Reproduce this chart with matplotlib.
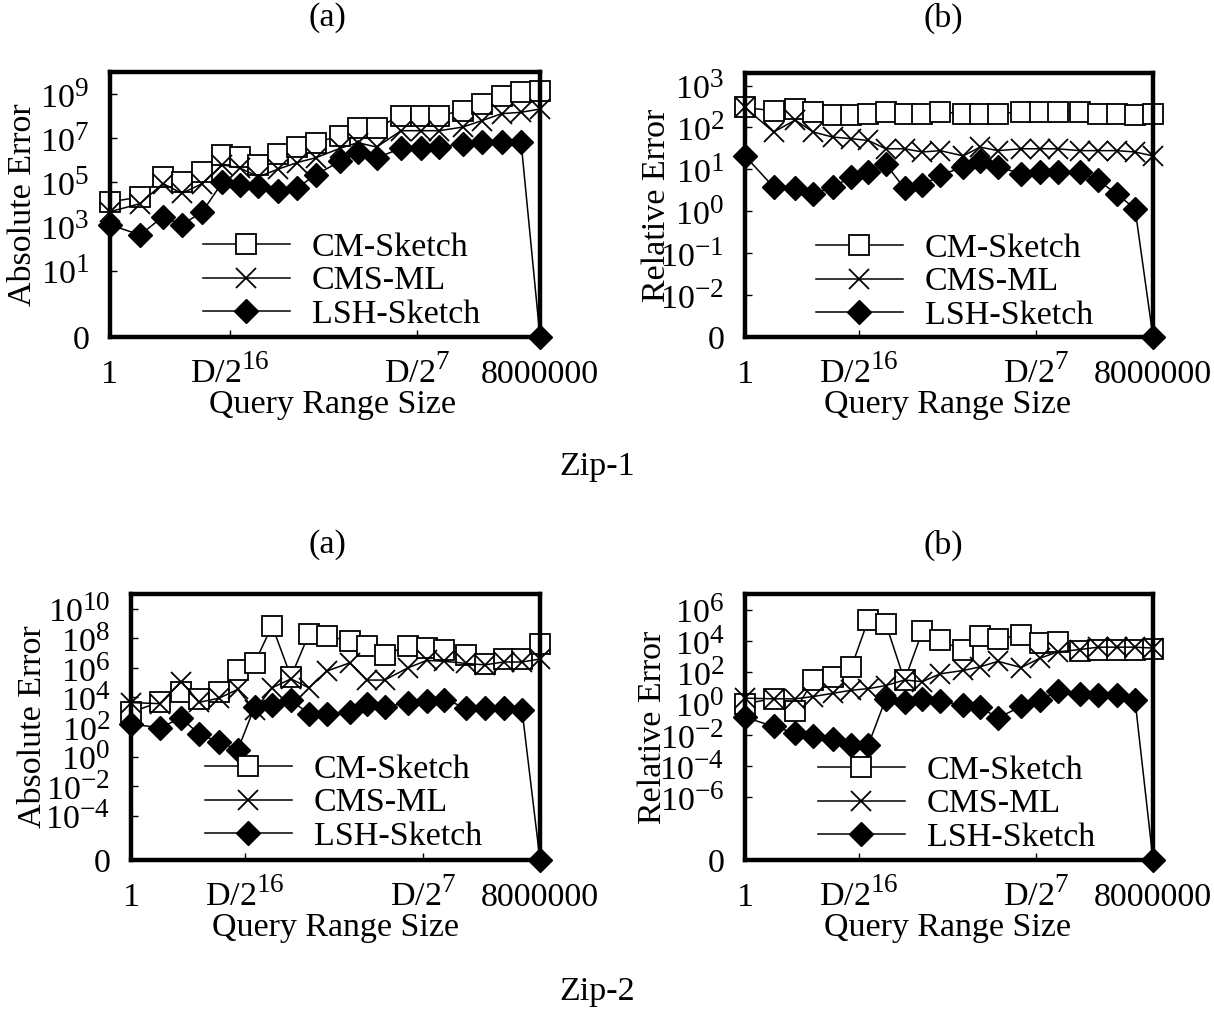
import numpy as np
import matplotlib
matplotlib.use("Agg")
import matplotlib.pyplot as plt
import matplotlib._mathtext as mathtext_internals
from matplotlib.ticker import FixedLocator, NullLocator

plt.rcParams['font.family'] = ['Liberation Serif', 'DejaVu Serif']
plt.rcParams['mathtext.fontset'] = 'custom'
plt.rcParams['mathtext.rm'] = 'Liberation Serif'
# gnuplot-style exponents are bigger than the mathtext default
mathtext_internals.SHRINK_FACTOR = 0.8

# where each query range sits along the x axis (0 = size 1, 1 = 8000000)
x_pos = [0.0, 0.070, 0.123, 0.167, 0.215, 0.261, 0.302, 0.345, 0.391, 0.435, 0.478,
         0.535, 0.576, 0.620, 0.677, 0.723, 0.766, 0.820, 0.865, 0.911, 0.956, 1.0]
x_tick_pos = [0.0, 0.279, 0.714, 1.0]
x_tick_labels = ['1', r'D/2$^{\mathregular{16}}$', r'D/2$^{\mathregular{7}}$', '8000000']
series_names = ['CM-Sketch', 'CMS-ML', 'LSH-Sketch']

# Zip-1, absolute error
zip1_abs_cm = [1.3e4, 2.2e4, 1.8e5, 1.0e5, 3.0e5, 1.7e6, 1.4e6, 5.9e5, 2.0e6, 4.0e6, 6.3e6,
               1.3e7, 3.0e7, 3.0e7, 1.05e8, 1.05e8, 1.05e8, 1.8e8, 3.5e8, 8.3e8, 1.2e9, 1.4e9]
zip1_abs_cms = [4.7e3, 1.1e4, 8.9e4, 3.2e4, 8.9e4, 6.3e5, 4.5e5, 1.8e5, 4.0e5, 7.9e5, 1.3e6,
                3.5e6, 6.3e6, 4.0e6, 2.2e7, 2.2e7, 2.2e7, 3.2e7, 6.3e7, 1.3e8, 1.5e8, 2.1e8]
zip1_abs_lsh = [1.2e3, 4.2e2, 2.8e3, 1.2e3, 4.7e3, 1.0e5, 7.9e4, 7.1e4, 4.0e4, 5.6e4, 2.2e5,
                8.9e5, 2.5e6, 1.3e6, 3.5e6, 3.5e6, 4.0e6, 5.6e6, 6.6e6, 6.6e6, 6.6e6, 0]

# Zip-1, relative error
zip1_rel_cm = [300, 250, 275, 235, 195, 195, 215, 235, 215, 215, 235,
               215, 215, 215, 235, 235, 235, 235, 215, 215, 195, 215]
zip1_rel_cms = [300, 78, 150, 78, 59, 54, 49, 31, 31, 26, 28,
                21, 34, 28, 31, 31, 31, 28, 28, 28, 26, 21]
zip1_rel_lsh = [21, 3.8, 3.5, 2.6, 3.8, 6.6, 8.7, 13.5, 3.5, 4.2, 7.2,
                11.5, 16, 11.5, 7.9, 8.7, 8.7, 8.7, 5.5, 2.6, 1.15, 0]

# Zip-2, absolute error
zip2_abs_cm = [1.0e3, 4.8e3, 2.3e4, 8.1e3, 2.3e4, 7.2e5, 2.1e6, 7.1e8, 2.5e5, 1.9e8, 1.45e8,
               6.6e7, 3.0e7, 7.9e6, 3.0e7, 2.3e7, 1.7e7, 7.9e6, 1.9e6, 4.2e6, 4.2e6, 4.4e7]
zip2_abs_cms = [4.5e3, 3.8e3, 1.15e5, 4.7e3, 8.9e3, 3.5e4, 1.4e3, 4.5e4, 1.8e5, 4.5e4, 6.0e5,
                2.2e6, 1.5e5, 1.5e5, 1.0e6, 3.2e6, 2.8e6, 2.0e6, 1.6e6, 2.5e6, 2.5e6, 4.0e6]
zip2_abs_lsh = [160, 89, 400, 32, 10, 2.8, 2.2e3, 3.2e3, 6.3e3, 790, 790,
                1.1e3, 3.5e3, 2.2e3, 4.5e3, 5.6e3, 7.1e3, 2.0e3, 1.8e3, 1.8e3, 1.4e3, 0]

# Zip-2, relative error
zip2_rel_cm = [1.0, 2.0, 0.35, 30, 47, 220, 2.2e5, 1.3e5, 30, 4.3e4, 1.1e4,
               2.5e3, 2.1e4, 1.4e4, 2.3e4, 6.9e3, 8.9e3, 2.2e3, 2.5e3, 2.5e3, 2.5e3, 3.2e3]
zip2_rel_cms = [2.2, 2.0, 2.0, 2.8, 4.5, 7.1, 8.9, 14, 32, 25, 79,
                130, 220, 500, 200, 790, 2.0e3, 2.8e3, 4.0e3, 4.0e3, 4.0e3, 3.5e3]
zip2_rel_lsh = [0.13, 0.035, 0.0126, 0.0079, 0.0056, 0.0022, 0.0022, 2.0, 1.26, 2.0, 1.4,
                0.76, 0.59, 0.12, 0.66, 1.6, 6.0, 4.2, 3.4, 3.4, 1.6, 0]

W, H = 1214, 1010
fig = plt.figure(figsize=(W / 100, H / 100), dpi=100)
FS = 24.5


def add_panel(box, data, ylabel, floor_exp, top_exp, tick_exps, ylab_x, leg_xy, xlab_x, xlab_y):
    l, t, r, b = box
    ax = fig.add_axes([l / W, 1 - b / H, (r - l) / W, (b - t) / H])
    lo = 10.0 ** floor_exp
    ax.set_yscale('function', functions=(lambda v: np.log10(np.maximum(v, lo)),
                                         lambda e: 10.0 ** e))
    cm, cms, lsh = data
    ax.plot(x_pos, cm, '-', color='black', lw=1.1, marker='s', ms=14.5,
            mfc='white', mec='black', mew=1.3, clip_on=False, label=series_names[0])
    ax.plot(x_pos, cms, '-', color='black', lw=1.1, marker='x', ms=15,
            mew=1.3, clip_on=False, label=series_names[1])
    ax.plot(x_pos, lsh, '-', color='black', lw=1.1, marker='D', ms=12,
            mfc='black', mec='black', clip_on=False, label=series_names[2])

    ax.set_xlim(0, 1)
    ax.set_ylim(0, 10.0 ** top_exp)
    ax.xaxis.set_major_locator(FixedLocator(x_tick_pos))
    ax.set_xticklabels(x_tick_labels)
    ax.yaxis.set_major_locator(FixedLocator([0] + [10.0 ** e for e in tick_exps]))
    ax.set_yticklabels(['0'] + [r'$\mathregular{10^{%d}}$' % e for e in tick_exps])
    ax.yaxis.set_minor_locator(NullLocator())
    ax.xaxis.set_minor_locator(NullLocator())
    ax.tick_params(axis='both', direction='in', length=5, width=1, labelsize=FS)
    ax.tick_params(axis='y', pad=15)
    ax.tick_params(axis='x', pad=33)
    for lab in ax.get_xticklabels():
        lab.set_va('baseline')
    for s in ax.spines.values():
        s.set_linewidth(3.2)

    ax.set_ylabel(ylabel, fontsize=FS)
    ax.yaxis.set_label_coords((ylab_x - l) / (r - l), 0.5)
    fig.text(xlab_x / W, 1 - xlab_y / H, 'Query Range Size', fontsize=FS,
             ha='center', va='center')

    lx = (leg_xy[0] - l) / (r - l)
    ly = (b - leg_xy[1]) / (b - t)
    ax.legend(loc='center left', bbox_to_anchor=(lx, ly), frameon=False, fontsize=FS,
              borderaxespad=0, borderpad=0, handlelength=2.55, handletextpad=0.65,
              labelspacing=0.07)
    return ax


add_panel((110, 72, 540, 337), (zip1_abs_cm, zip1_abs_cms, zip1_abs_lsh), 'Absolute Error',
          -2, 10, [1, 3, 5, 7, 9], 38, (203, 281), 333, 405)
add_panel((745, 73, 1153, 337), (zip1_rel_cm, zip1_rel_cms, zip1_rel_lsh), 'Relative Error',
          -3, 3.3, [-2, -1, 0, 1, 2, 3], 672, (816, 282), 948, 405)
add_panel((131, 594, 540, 860), (zip2_abs_cm, zip2_abs_cms, zip2_abs_lsh), 'Absolute Error',
          -7, 11, [-4, -2, 0, 2, 4, 6, 8, 10], 48, (205, 803), 335, 928)
add_panel((745, 594, 1153, 860), (zip2_rel_cm, zip2_rel_cms, zip2_rel_lsh), 'Relative Error',
          -10, 7, [-6, -4, -2, 0, 2, 4, 6], 668, (818, 804), 948, 928)

for txt, x, y in [('(a)', 327, 18), ('(b)', 943, 18), ('Zip-1', 597, 467),
                  ('(a)', 327, 545), ('(b)', 943, 545), ('Zip-2', 597, 992)]:
    fig.text(x / W, 1 - y / H, txt, fontsize=FS, ha='center', va='center')

fig.savefig('out.png', dpi=100)
